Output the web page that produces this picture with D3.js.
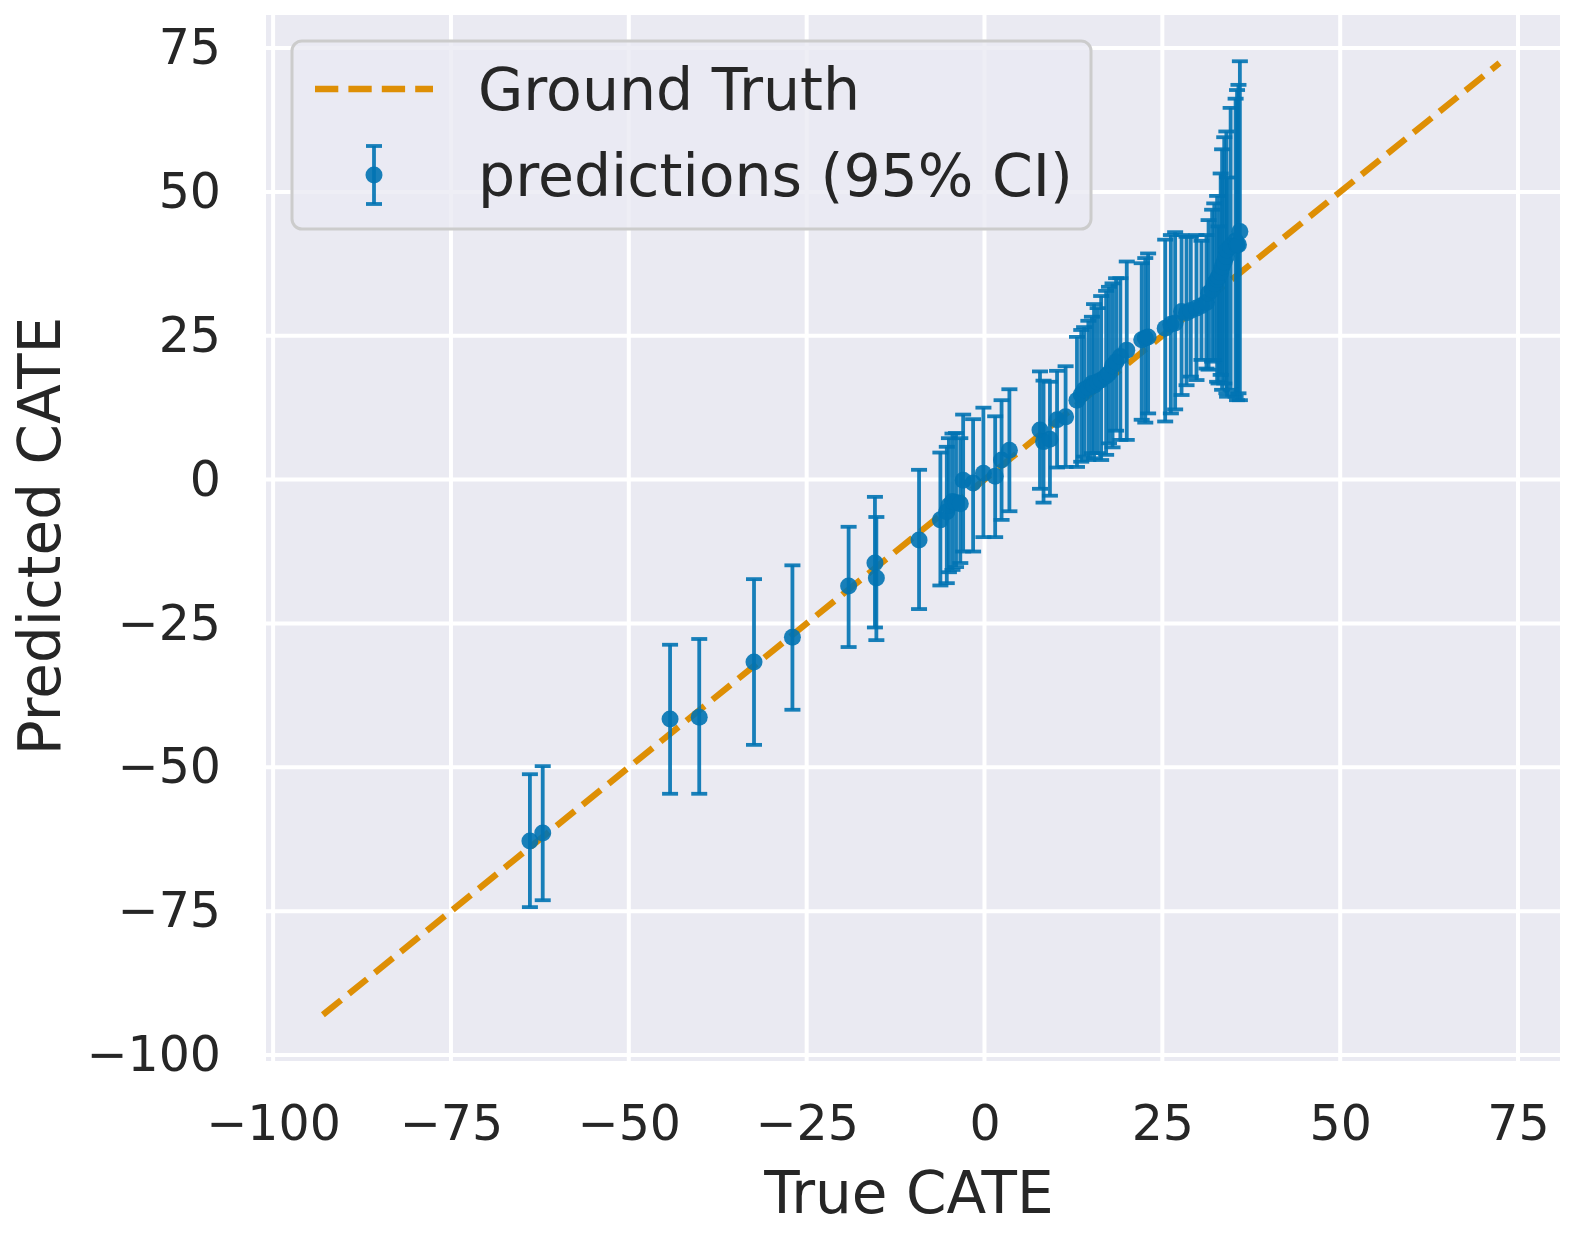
<!DOCTYPE html>
<html>
<head>
<meta charset="utf-8">
<script src="https://cdn.jsdelivr.net/npm/d3@7"></script>
<style>
  html, body { margin: 0; padding: 0; background: #ffffff; }
  svg { display: block; }
  text { font-family: "DejaVu Sans", sans-serif; fill: #262626; }
</style>
</head>
<body>
<svg id="chart" width="1575" height="1237"></svg>
<script>
// ---- data ----
const trueCATE = [
  -63.9, -62.1, -44.2, -40.1, -32.4, -27.0, -19.1, -15.4, -15.2, -9.2,
  -6.2, -5.3, -5.0, -4.5, -4.0, -3.4, -3.0, -1.6, -0.15, 1.5, 2.4, 3.5,
  7.8, 8.3, 9.2, 10.2, 11.4,
  13.0, 13.6, 14.0, 14.6, 15.1, 15.4, 15.9, 16.4, 17.1, 17.5, 18.0, 18.5, 19.1, 20.0,
  22.1, 22.6, 23.0, 25.4, 26.2, 26.8, 27.7, 28.4, 29.0, 29.8, 30.5, 31.2,
  31.5, 32.0, 32.3, 32.7, 32.9, 33.2, 33.4, 33.7, 34.0, 34.1, 34.6, 35.3, 35.5, 35.7, 35.9
];
const predictedCATE = [
  -62.8, -61.4, -41.6, -41.3, -31.7, -27.4, -18.5, -14.5, -17.1, -10.5,
  -7.0, -5.6, -4.5, -3.8, -4.0, -4.2, -0.1, -0.6, 1.1, 0.6, 3.4, 5.1,
  8.6, 6.6, 7.0, 10.4, 10.9,
  13.8, 14.8, 15.6, 16.0, 16.7, 16.4, 17.0, 17.3, 18.0, 18.5, 19.8, 20.5, 21.4, 22.5,
  24.3, 24.6, 24.8, 26.3, 27.0, 27.2, 29.2, 29.0, 29.4, 29.8, 30.2, 30.8,
  32.4, 33.0, 34.1, 34.8, 35.3, 36.0, 37.0, 37.8, 38.8, 39.9, 40.5, 41.5, 40.8, 40.8, 43.1
];
const ciLower = [
  -74.3, -73.1, -54.6, -54.6, -46.1, -40.0, -29.1, -25.7, -27.9, -22.5,
  -18.4, -18.0, -16.1, -15.7, -15.2, -14.5, -12.5, -12.5, -10.0, -10.0, -7.0, -5.5,
  -1.6, -4.0, -2.8, 2.1, 2.2,
  2.2, 3.1, 4.0, 3.4, 4.6, 3.7, 4.6, 3.4, 4.3, 6.3, 5.6, 8.5, 6.9, 6.9,
  10.4, 9.9, 11.5, 10.1, 11.5, 12.2, 14.7, 16.4, 17.9, 17.3, 20.8, 19.3,
  19.1, 20.5, 20.8, 17.0, 16.7, 18.2, 15.6, 16.7, 15.0, 14.4, 15.6, 14.4, 13.8, 15.0, 13.8
];
const ciUpper = [
  -51.2, -49.8, -28.7, -27.7, -17.3, -14.9, -8.2, -3.0, -6.5, 1.7,
  4.7, 5.7, 7.2, 8.0, 8.1, 7.2, 11.3, 10.5, 12.5, 11.0, 13.8, 15.7,
  18.8, 17.2, 17.0, 18.9, 19.7,
  24.8, 26.0, 26.5, 27.6, 28.3, 30.5, 29.8, 31.9, 32.8, 33.5, 34.1, 35.0, 35.0, 37.9,
  37.6, 38.5, 39.3, 41.7, 42.5, 43.0, 42.5, 42.2, 42.2, 42.5, 41.5, 42.5,
  45.1, 46.9, 48.0, 49.3, 44.0, 53.2, 57.4, 59.5, 60.5, 52.5, 64.6, 66.2, 67.7, 68.6, 72.7
];
const groundTruthRange = [-93.0, 72.4];
const xTickValues = [-100, -75, -50, -25, 0, 25, 50, 75];
const yTickValues = [-100, -75, -50, -25, 0, 25, 50, 75];
const legendLabels = ["Ground Truth", "predictions (95% CI)"];
const xLabel = "True CATE";
const yLabel = "Predicted CATE";

// ---- layout ----
const plot = { left: 266, right: 1560, top: 15, bottom: 1061 };
const colors = { bg: "#eaeaf2", grid: "#ffffff", blue: "#0173b2", orange: "#de8f05" };

const svg = d3.select("#chart");
const x = d3.scaleLinear().domain([-101.0, 80.9]).range([plot.left, plot.right]);
const y = d3.scaleLinear().domain([-101.04, 80.74]).range([plot.bottom, plot.top]);

// background
svg.append("rect")
  .attr("x", plot.left).attr("y", plot.top)
  .attr("width", plot.right - plot.left).attr("height", plot.bottom - plot.top)
  .attr("fill", colors.bg);

// grid
const grid = svg.append("g");
grid.selectAll("line.vx").data(xTickValues).join("line")
  .attr("x1", d => x(d)).attr("x2", d => x(d))
  .attr("y1", plot.top).attr("y2", plot.bottom)
  .attr("stroke", colors.grid).attr("stroke-width", 4);
grid.selectAll("line.hy").data(yTickValues).join("line")
  .attr("y1", d => y(d)).attr("y2", d => y(d))
  .attr("x1", plot.left).attr("x2", plot.right)
  .attr("stroke", colors.grid).attr("stroke-width", 4);

// axes (labels only)
const xAxis = d3.axisBottom(x).tickValues(xTickValues).tickSize(0).tickPadding(44);
const yAxis = d3.axisLeft(y).tickValues(yTickValues).tickSize(0).tickPadding(45);
const gx = svg.append("g").attr("transform", `translate(0,${plot.bottom})`).call(xAxis);
const gy = svg.append("g").attr("transform", `translate(${plot.left},0)`).call(yAxis);
[gx, gy].forEach(g => {
  g.select(".domain").remove();
  g.selectAll("text").style("font-family", "'DejaVu Sans', sans-serif")
    .style("font-size", "49px").attr("fill", "#262626");
});

// clip
svg.append("clipPath").attr("id", "clip").append("rect")
  .attr("x", plot.left).attr("y", plot.top)
  .attr("width", plot.right - plot.left).attr("height", plot.bottom - plot.top);
const pg = svg.append("g").attr("clip-path", "url(#clip)");

// ground-truth line
pg.append("line")
  .attr("x1", x(groundTruthRange[0])).attr("y1", y(groundTruthRange[0]))
  .attr("x2", x(groundTruthRange[1])).attr("y2", y(groundTruthRange[1]))
  .attr("stroke", colors.orange).attr("stroke-width", 6.3)
  .attr("stroke-dasharray", "23.3,10.1");

// error bars
const pts = trueCATE.map((t, i) => ({ t, p: predictedCATE[i], lo: ciLower[i], hi: ciUpper[i] }));
const alpha = 0.9;
const cap = 8;
pg.selectAll("line.bar").data(pts).join("line")
  .attr("x1", d => x(d.t)).attr("x2", d => x(d.t))
  .attr("y1", d => y(d.lo)).attr("y2", d => y(d.hi))
  .attr("stroke", colors.blue).attr("stroke-width", 3.8).attr("stroke-opacity", alpha);
["lo", "hi"].forEach(k => {
  pg.selectAll("line.cap" + k).data(pts).join("line")
    .attr("x1", d => x(d.t) - cap).attr("x2", d => x(d.t) + cap)
    .attr("y1", d => y(d[k])).attr("y2", d => y(d[k]))
    .attr("stroke", colors.blue).attr("stroke-width", 3.8).attr("stroke-opacity", alpha);
});
pg.selectAll("circle.pt").data(pts).join("circle")
  .attr("cx", d => x(d.t)).attr("cy", d => y(d.p)).attr("r", 8.5)
  .attr("fill", colors.blue).attr("fill-opacity", alpha);

// axis titles
svg.append("text").attr("x", (plot.left + plot.right) / 2 - 4).attr("y", 1213)
  .attr("text-anchor", "middle").style("font-size", "58px").text(xLabel);
svg.append("text").attr("transform", `translate(60,${(plot.top + plot.bottom) / 2 - 2}) rotate(-90)`)
  .attr("text-anchor", "middle").style("font-size", "58px").text(yLabel);

// legend
const lg = svg.append("g");
lg.append("rect").attr("x", 292).attr("y", 41).attr("width", 799).attr("height", 188)
  .attr("rx", 10).attr("fill", colors.bg).attr("fill-opacity", 0.8)
  .attr("stroke", "#cccccc").attr("stroke-width", 3);
lg.append("line").attr("x1", 315).attr("x2", 433).attr("y1", 89).attr("y2", 89)
  .attr("stroke", colors.orange).attr("stroke-width", 6.3).attr("stroke-dasharray", "23.3,10.1");
const ex = 374;
lg.append("line").attr("x1", ex).attr("x2", ex).attr("y1", 146).attr("y2", 204)
  .attr("stroke", colors.blue).attr("stroke-width", 3.8).attr("stroke-opacity", alpha);
[146, 204].forEach(yy => lg.append("line").attr("x1", ex - cap).attr("x2", ex + cap)
  .attr("y1", yy).attr("y2", yy).attr("stroke", colors.blue).attr("stroke-width", 3.8)
  .attr("stroke-opacity", alpha));
lg.append("circle").attr("cx", ex).attr("cy", 175).attr("r", 8.5)
  .attr("fill", colors.blue).attr("fill-opacity", alpha);
lg.append("text").attr("x", 478).attr("y", 110).style("font-size", "58.5px").text(legendLabels[0]);
lg.append("text").attr("x", 478).attr("y", 196).style("font-size", "58.5px").text(legendLabels[1]);
</script>
</body>
</html>
